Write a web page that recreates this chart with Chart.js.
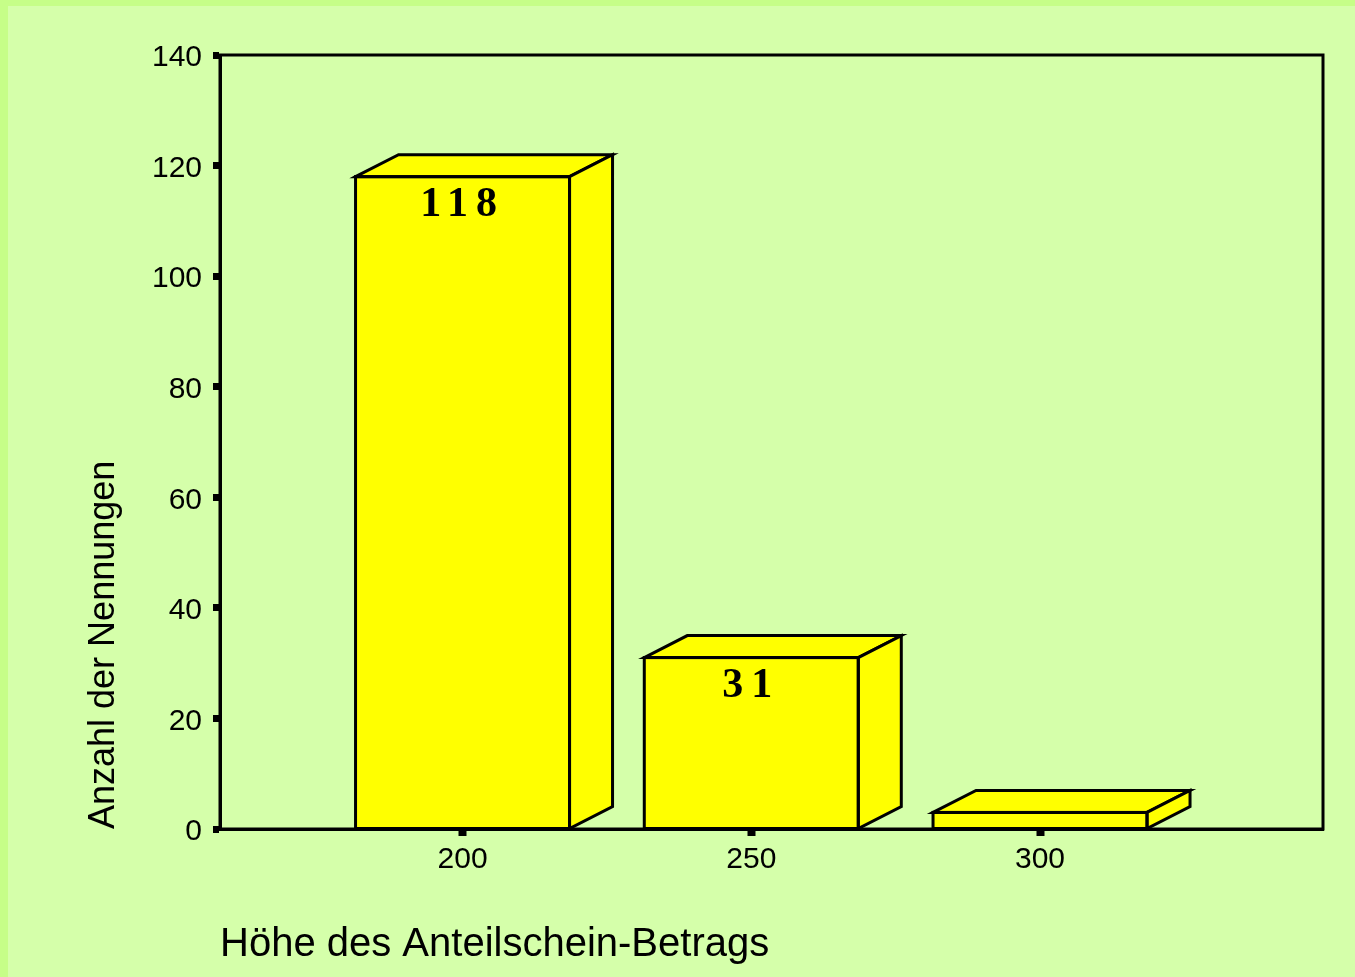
<!DOCTYPE html>
<html>
<head>
<meta charset="utf-8">
<script src="https://cdn.jsdelivr.net/npm/chart.js@4.4.0/dist/chart.umd.min.js"></script>
<style>
  html, body { margin: 0; padding: 0; background: #d5ffaa; }
  #wrap { width: 1355px; height: 977px; }
</style>
</head>
<body>
<div id="wrap"><canvas id="chart" width="1355" height="977"></canvas></div>
<script>
// values
var categories = [200, 250, 300];
var counts = [118, 31, 3];
var valueLabels = ['118', '31', ''];
var yTitle = 'Anzahl der Nennungen';
var xTitle = 'Höhe des Anteilschein-Betrags';

var depthX = 43, depthY = 22; // 3d offset of the boxes

// page background with the darker strip at top and left
var backgroundPlugin = {
    id: 'bg',
    beforeDraw: function (chart) {
        var ctx = chart.ctx;
        ctx.save();
        ctx.fillStyle = '#c6fe88';
        ctx.fillRect(0, 0, chart.width, chart.height);
        ctx.fillStyle = '#d5ffaa';
        ctx.fillRect(8, 6, chart.width - 8, chart.height - 6);
        ctx.restore();
    }
};

// box round the plot area
var framePlugin = {
    id: 'frame',
    beforeDatasetsDraw: function (chart) {
        var a = chart.chartArea, ctx = chart.ctx;
        ctx.save();
        ctx.strokeStyle = '#000';
        ctx.lineWidth = 3;
        ctx.strokeRect(a.left, a.top, a.right - a.left, a.bottom - a.top);
        ctx.restore();
    }
};

// top and side faces so the bars look like boxes
var boxPlugin = {
    id: 'boxes',
    afterDatasetsDraw: function (chart) {
        var ctx = chart.ctx;
        var meta = chart.getDatasetMeta(0);
        ctx.save();
        ctx.fillStyle = '#ffff00';
        ctx.strokeStyle = '#000';
        ctx.lineWidth = 3;
        ctx.lineJoin = 'miter';
        meta.data.forEach(function (bar) {
            var p = bar.getProps(['x', 'y', 'base', 'width'], true);
            var l = p.x - p.width / 2, r = p.x + p.width / 2;
            // top
            ctx.beginPath();
            ctx.moveTo(l, p.y);
            ctx.lineTo(l + depthX, p.y - depthY);
            ctx.lineTo(r + depthX, p.y - depthY);
            ctx.lineTo(r, p.y);
            ctx.closePath();
            ctx.fill();
            ctx.stroke();
            // side
            ctx.beginPath();
            ctx.moveTo(r, p.y);
            ctx.lineTo(r + depthX, p.y - depthY);
            ctx.lineTo(r + depthX, p.base - depthY);
            ctx.lineTo(r, p.base);
            ctx.closePath();
            ctx.fill();
            ctx.stroke();
            // front outline again
            ctx.strokeRect(l, p.y, p.width, p.base - p.y);
        });
        ctx.restore();
    }
};

// numbers inside the bars
var labelPlugin = {
    id: 'valueLabels',
    afterDatasetsDraw: function (chart) {
        var ctx = chart.ctx;
        var meta = chart.getDatasetMeta(0);
        ctx.save();
        ctx.fillStyle = '#000';
        ctx.font = 'bold 42px "Liberation Serif", "Times New Roman", serif';
        ctx.textAlign = 'center';
        ctx.textBaseline = 'middle';
        ctx.letterSpacing = '8px';
        meta.data.forEach(function (bar, i) {
            if (!valueLabels[i]) return;
            ctx.fillText(valueLabels[i], bar.x, bar.y + 29);
        });
        ctx.restore();
    }
};

var ctx = document.getElementById('chart').getContext('2d');
var myChart = new Chart(ctx, {
    type: 'bar',
    data: {
        datasets: [{
            data: categories.map(function (c, i) { return { x: c, y: counts[i] }; }),
            backgroundColor: '#ffff00',
            borderColor: '#000',
            borderWidth: 0,
            barThickness: 214
        }]
    },
    options: {
        responsive: false,
        animation: false,
        layout: { padding: { top: 55, right: 32, left: 0, bottom: 0 } },
        plugins: {
            legend: { display: false },
            tooltip: { enabled: false }
        },
        scales: {
            x: {
                type: 'linear',
                min: 158,
                max: 349,
                offset: false,
                afterBuildTicks: function (axis) {
                    axis.ticks = categories.map(function (v) { return { value: v }; });
                },
                afterFit: function (axis) { axis.height = 148; },
                grid: { drawOnChartArea: false, offset: false, color: '#000', tickLength: 7, tickWidth: 8 },
                border: { color: '#000', width: 3 },
                ticks: {
                    color: '#000',
                    padding: 6,
                    font: { family: '"Liberation Sans", Arial, sans-serif', size: 30 },
                    callback: function (v) { return String(v); }
                },
                title: {
                    display: true,
                    text: xTitle,
                    align: 'start',
                    color: '#000',
                    padding: { top: 0, bottom: 8 },
                    font: { family: '"Liberation Sans", Arial, sans-serif', size: 40 }
                }
            },
            y: {
                min: 0,
                max: 140,
                afterFit: function (axis) { axis.width = 220; },
                grid: { drawOnChartArea: false, color: '#000', tickLength: 7, tickWidth: 7 },
                border: { color: '#000', width: 3 },
                ticks: {
                    stepSize: 20,
                    color: '#000',
                    padding: 11,
                    labelOffset: 3,
                    font: { family: '"Liberation Sans", Arial, sans-serif', size: 30 }
                },
                title: {
                    display: true,
                    text: yTitle,
                    align: 'start',
                    color: '#000',
                    padding: { top: 82, bottom: 0 },
                    font: { family: '"Liberation Sans", Arial, sans-serif', size: 36 }
                }
            }
        }
    },
    plugins: [backgroundPlugin, framePlugin, boxPlugin, labelPlugin]
});
</script>
</body>
</html>
